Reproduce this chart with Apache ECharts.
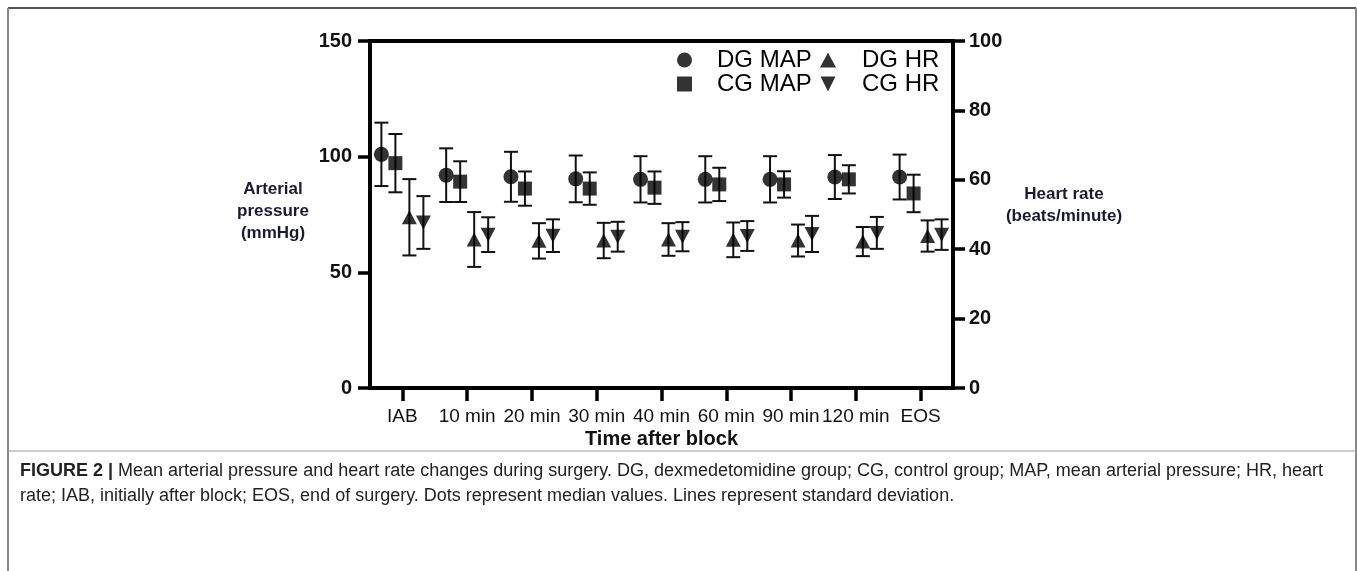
<!DOCTYPE html>
<html>
<head>
<meta charset="utf-8">
<script src="https://cdn.jsdelivr.net/npm/echarts@6/dist/echarts.min.js"></script>
<style>
  html, body { margin: 0; padding: 0; background: #fff; }
  #main { width: 1357px; height: 571px; }
</style>
</head>
<body>
<div id="main"></div>
<script>
const categories = ['IAB', '10 min', '20 min', '30 min', '40 min', '60 min', '90 min', '120 min', 'EOS'];
// arterial pressure (mmHg), left axis
const dgMap = [101, 92, 91.3, 90.4, 90.2, 90.2, 90.2, 91.2, 91.2];
const dgMapSd = [13.7, 11.6, 10.8, 10.1, 10, 10, 10, 9.5, 9.7];
const cgMap = [97.2, 89.2, 86.2, 86.2, 86.6, 88, 88, 90.2, 84.1];
const cgMapSd = [12.6, 8.8, 7.4, 7, 7, 7.2, 5.7, 6.1, 8.1];
// heart rate (beats/minute), right axis
const dgHr = [49.2, 42.8, 42.4, 42.5, 42.8, 42.7, 42.5, 42.2, 43.8];
const dgHrSd = [11, 7.9, 5.1, 5.1, 4.7, 5, 4.6, 4.2, 4.5];
const cgHr = [47.7, 44.2, 43.9, 43.6, 43.6, 43.8, 44.4, 44.7, 44.2];
const cgHrSd = [7.6, 5, 4.7, 4.3, 4.2, 4.3, 5.2, 4.6, 4.4];
const pressureTicks = [0, 50, 100, 150];
const rateTicks = [0, 20, 40, 60, 80, 100];

const font = '"Liberation Sans", Arial, sans-serif';
const downTri = 'path://M0,0 L10,0 L5,10 Z';

function errData(mean, sd) {
    return mean.map((m, i) => [i, m - sd[i], m + sd[i]]);
}

function errorBars(offset) {
    return function (params, api) {
        const lo = api.coord([api.value(0), api.value(1)]);
        const hi = api.coord([api.value(0), api.value(2)]);
        const x = lo[0] + offset;
        const cap = 7;
        const style = { stroke: '#111', lineWidth: 2 };
        return {
            type: 'group',
            children: [
                { type: 'line', shape: { x1: x, y1: hi[1], x2: x, y2: lo[1] }, style: style },
                { type: 'line', shape: { x1: x - cap, y1: hi[1], x2: x + cap, y2: hi[1] }, style: style },
                { type: 'line', shape: { x1: x - cap, y1: lo[1], x2: x + cap, y2: lo[1] }, style: style }
            ]
        };
    };
}

const axisLine = { show: true, lineStyle: { color: '#000', width: 4 } };
const axisTick = { show: true, length: 12, lineStyle: { color: '#000', width: 3.5 } };
// axis titles on the two y axes are placed as graphic text
const titleStyle = { fontFamily: font, fontSize: 17, fontWeight: 'bold', fill: '#1a1a33', lineHeight: 22, align: 'center', verticalAlign: 'middle' };

let myChart = echarts.init(document.getElementById('main'));
myChart.setOption({
    animation: false,
    textStyle: { fontFamily: font },
    grid: {
        left: 370, right: 404, top: 41, bottom: 183,
        show: true,
        borderColor: '#000',
        borderWidth: 4
    },
    legend: [
        {
            orient: 'vertical',
            left: 672, top: 43,
            itemWidth: 15, itemHeight: 15, itemGap: 0,
            textStyle: { fontSize: 24, color: '#000', padding: [0, 0, 0, 20] },
            data: [
                { name: 'DG MAP', icon: 'circle' },
                { name: 'CG MAP', icon: 'rect' }
            ]
        },
        {
            orient: 'vertical',
            left: 815, top: 43,
            itemWidth: 16, itemHeight: 15, itemGap: 0,
            textStyle: { fontSize: 24, color: '#000', padding: [0, 0, 0, 21] },
            data: [
                { name: 'DG HR', icon: 'triangle' },
                { name: 'CG HR', icon: downTri }
            ]
        }
    ],
    xAxis: {
        type: 'category',
        data: categories,
        name: 'Time after block',
        nameLocation: 'middle',
        nameGap: 41,
        nameMoveOverlap: false,
        nameTextStyle: { fontFamily: font, fontSize: 20, fontWeight: 'bold', color: '#111' },
        axisLine: axisLine,
        axisTick: { show: true, alignWithLabel: true, length: 13, lineStyle: { color: '#000', width: 3.5 } },
        axisLabel: { interval: 0, margin: 19, fontSize: 19, color: '#111' },
        splitLine: { show: false }
    },
    yAxis: [
        {
            type: 'value',
            min: pressureTicks[0], max: pressureTicks[pressureTicks.length - 1], interval: 50,
            axisLine: axisLine, axisTick: axisTick,
            axisLabel: { margin: 18, fontSize: 20, fontWeight: 'bold', color: '#111' },
            splitLine: { show: false }
        },
        {
            type: 'value',
            min: rateTicks[0], max: rateTicks[rateTicks.length - 1], interval: 20,
            axisLine: axisLine, axisTick: axisTick,
            axisLabel: { margin: 16, fontSize: 20, fontWeight: 'bold', color: '#111' },
            splitLine: { show: false }
        }
    ],
    series: [
        { type: 'custom', yAxisIndex: 0, renderItem: errorBars(-21), data: errData(dgMap, dgMapSd), encode: { x: 0, y: [1, 2] }, z: 2 },
        { type: 'custom', yAxisIndex: 0, renderItem: errorBars(-7), data: errData(cgMap, cgMapSd), encode: { x: 0, y: [1, 2] }, z: 2 },
        { type: 'custom', yAxisIndex: 1, renderItem: errorBars(7), data: errData(dgHr, dgHrSd), encode: { x: 0, y: [1, 2] }, z: 2 },
        { type: 'custom', yAxisIndex: 1, renderItem: errorBars(21), data: errData(cgHr, cgHrSd), encode: { x: 0, y: [1, 2] }, z: 2 },
        { name: 'DG MAP', type: 'scatter', yAxisIndex: 0, symbol: 'circle', symbolSize: 15, symbolOffset: [-21, 0], itemStyle: { color: '#000' }, data: dgMap, z: 3 },
        { name: 'CG MAP', type: 'scatter', yAxisIndex: 0, symbol: 'rect', symbolSize: 14, symbolOffset: [-7, 0], itemStyle: { color: '#000' }, data: cgMap, z: 3 },
        { name: 'DG HR', type: 'scatter', yAxisIndex: 1, symbol: 'triangle', symbolSize: [15, 14], symbolOffset: [7, 0], itemStyle: { color: '#000' }, data: dgHr, z: 3 },
        { name: 'CG HR', type: 'scatter', yAxisIndex: 1, symbol: downTri, symbolSize: [15, 14], symbolOffset: [21, 0], itemStyle: { color: '#000' }, data: cgHr, z: 3 }
    ],
    graphic: [
        { type: 'line', shape: { x1: 8, y1: 8, x2: 1356, y2: 8 }, style: { stroke: '#555', lineWidth: 2 } },
        { type: 'line', shape: { x1: 8, y1: 8, x2: 8, y2: 571 }, style: { stroke: '#888', lineWidth: 2 } },
        { type: 'line', shape: { x1: 1356, y1: 8, x2: 1356, y2: 571 }, style: { stroke: '#888', lineWidth: 2 } },
        { type: 'line', shape: { x1: 8, y1: 451, x2: 1356, y2: 451 }, style: { stroke: '#999', lineWidth: 1 } },
        { type: 'text', x: 273, y: 211, style: Object.assign({ text: 'Arterial\npressure\n(mmHg)' }, titleStyle) },
        { type: 'text', x: 1064, y: 205, style: Object.assign({ text: 'Heart rate\n(beats/minute)' }, titleStyle) },
        {
            type: 'text', left: 20, top: 462,
            style: {
                text: '{b|FIGURE 2 |} Mean arterial pressure and heart rate changes during surgery. DG, dexmedetomidine group; CG, control group; MAP, mean arterial pressure; HR, heart',
                fontFamily: font, fontSize: 18, fill: '#222',
                rich: { b: { fontFamily: font, fontSize: 18, fontWeight: 'bold', fill: '#222' } }
            }
        },
        {
            type: 'text', left: 20, top: 487,
            style: {
                text: 'rate; IAB, initially after block; EOS, end of surgery. Dots represent median values. Lines represent standard deviation.',
                fontFamily: font, fontSize: 18, fill: '#222'
            }
        }
    ]
});
</script>
</body>
</html>
